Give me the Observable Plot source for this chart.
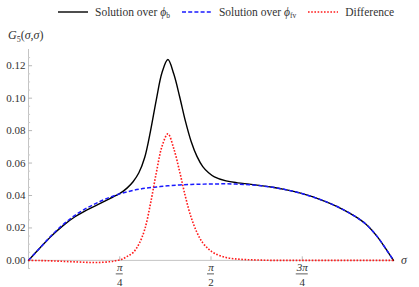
<!DOCTYPE html>
<html><head><meta charset="utf-8">
<script src="https://cdn.jsdelivr.net/npm/d3@7"></script>
<script src="https://cdn.jsdelivr.net/npm/@observablehq/plot@0.6"></script>
<style>
html,body{margin:0;padding:0;background:#fff;}
body{width:419px;height:287px;overflow:hidden;font-family:'Liberation Serif','Times New Roman','DejaVu Serif',Times,serif;color:#333;}
#legend{height:24px;display:flex;align-items:center;padding-left:58px;font-size:11.5px;white-space:nowrap;}
.item{display:flex;align-items:center;margin-right:12px;}
.item svg{margin-right:7px;}
.item sub{font-size:7.5px;vertical-align:-2px;line-height:0;}
#chart svg{display:block;overflow:visible;}
#chart svg text{font-family:'Liberation Serif','Times New Roman','DejaVu Serif',Times,serif;}
</style></head><body>
<div id="legend"></div>
<div id="chart"></div>
<script>
// ---- data ----
const sigmaBlue = [0,0.1,0.2,0.3,0.4,0.5,0.6,0.7,0.8,0.9,1.0,1.1,1.2,1.3,1.4,1.5,1.6,1.7,1.8,1.9,2.0,2.1,2.2,2.3,2.4,2.5,2.6,2.7,2.8,2.9,3.0,3.1,3.1416];
const blueVals = [0,0.0078,0.0155,0.0222,0.0278,0.0322,0.0358,0.0389,0.0413,0.0431,0.0444,0.0452,0.0460,0.0465,0.0468,0.0470,0.0471,0.0472,0.0470,0.0466,0.0460,0.0451,0.0438,0.0422,0.0402,0.0378,0.0350,0.0316,0.0276,0.0226,0.0148,0.0045,0];

const sigmaFine = [0,0.1,0.2,0.3,0.4,0.5,0.6,0.7,0.75,0.8,0.85,0.9,0.95,1.0,1.05,1.1,1.15,1.2,1.25,1.3,1.35,1.4,1.45,1.5,1.55,1.6,1.7,1.8,1.9,2.0,2.1,2.2,2.3,2.4,2.5,2.6,2.7,2.8,2.9,3.0,3.1,3.1416];
const blackVals = [0,0.0078,0.0152,0.0216,0.0269,0.0310,0.0345,0.0381,0.0399,0.0419,0.0447,0.0485,0.0540,0.0634,0.0797,0.0990,0.1160,0.1238,0.1150,0.1012,0.0860,0.0733,0.0641,0.0578,0.0540,0.0515,0.0490,0.0478,0.0470,0.0461,0.0451,0.0438,0.0422,0.0402,0.0378,0.0350,0.0316,0.0276,0.0226,0.0148,0.0045,0];
const diffVals = [0,-0.0001,-0.0003,-0.0006,-0.0009,-0.0012,-0.0013,-0.0008,-0.0002,0.0006,0.0025,0.0048,0.0100,0.0190,0.0350,0.0540,0.0705,0.0780,0.0690,0.0550,0.0395,0.0265,0.0172,0.0108,0.0070,0.0044,0.0018,0.0008,0.0004,0.0002,0,0,0,0,0,0,0,0,0,0,0,0];

const yMajor = [0,0.02,0.04,0.06,0.08,0.10,0.12];
const yMinor = [-0.005,0.005,0.01,0.015,0.025,0.03,0.035,0.045,0.05,0.055,0.065,0.07,0.075,0.085,0.09,0.095,0.105,0.11,0.115,0.125];
const xTickVals = [Math.PI/4, Math.PI/2, 3*Math.PI/4];
const xTickNum = ["π","π","3π"];
const xTickDen = ["4","2","4"];

const seriesNames = ["Solution over ϕ", "Solution over ϕ", "Difference"];
const seriesSubs = ["b","fv",""];
const seriesColors = ["#000000","#1a1aff","#ff1a1a"];
const seriesDash = [null,"4,2.2","1.6,1.6"];
const seriesWidth = [1.4,1.5,1.6];

const FONT = "'Liberation Serif','Times New Roman','DejaVu Serif',Times,serif";

// ---- build tables ----
const blue = sigmaBlue.map((s,i)=>({s, v: blueVals[i]}));
const black = sigmaFine.map((s,i)=>({s, v: blackVals[i]}));
const diff = sigmaFine.map((s,i)=>({s, v: diffVals[i]}));
const xTicks = xTickVals.map((v,i)=>({v, num: xTickNum[i], den: xTickDen[i]}));

// ---- legend ----
const legend = document.getElementById("legend");
seriesNames.forEach((name,i)=>{
  const item = document.createElement("div");
  item.className = "item";
  const dash = seriesDash[i] ? `stroke-dasharray="${seriesDash[i]}"` : "";
  item.innerHTML = `<svg width="30" height="6"><line x1="0" y1="3" x2="30" y2="3" stroke="${seriesColors[i]}" stroke-width="${seriesWidth[i]}" stroke-linecap="butt" ${dash}/></svg>` +
    `<span>${name.replace("ϕ","<i>ϕ</i>")}${seriesSubs[i] ? `<sub>${seriesSubs[i]}</sub>` : ""}</span>`;
  legend.appendChild(item);
});

// ---- plot ----
const plot = Plot.plot({
  width: 419, height: 263,
  marginLeft: 28, marginRight: 26, marginTop: 25, marginBottom: 19,
  x: {domain: [0, Math.PI], axis: null},
  y: {domain: [-0.005, 0.13], axis: null},
  style: {fontFamily: FONT, fontSize: "11px", color: "#333", background: "white", overflow: "visible"},
  marks: [
    Plot.ruleX([0], {stroke: "#c4c4c4"}),
    Plot.ruleY([0], {stroke: "#c4c4c4"}),
    Plot.ruleY(yMajor, {x1: 0, x2: 0.035, stroke: "#b8b8b8"}),
    Plot.ruleY(yMinor, {x1: 0, x2: 0.018, stroke: "#cccccc"}),
    Plot.ruleX(xTickVals, {y1: 0, y2: 0.0022, stroke: "#b8b8b8"}),
    Plot.text(yMajor, {x: 0, y: d=>d, text: d=>d3.format(".2f")(d), textAnchor: "end", dx: -3, fill: "#333", fontSize: 11}),
    Plot.text(xTicks, {x: "v", y: 0, text: "num", dy: 7, fill: "#333", fontSize: 11, fontStyle: "italic"}),
    Plot.text(xTicks, {x: "v", y: 0, text: "den", dy: 22, fill: "#333", fontSize: 11}),
    Plot.line(black, {x: "s", y: "v", stroke: seriesColors[0], strokeWidth: seriesWidth[0], curve: "catmull-rom"}),
    Plot.line(blue, {x: "s", y: "v", stroke: seriesColors[1], strokeWidth: seriesWidth[1], strokeDasharray: seriesDash[1], strokeLinecap: "butt", curve: "catmull-rom"}),
    Plot.line(diff, {x: "s", y: "v", stroke: seriesColors[2], strokeWidth: seriesWidth[2], strokeDasharray: seriesDash[2], strokeLinecap: "butt", curve: "catmull-rom"})
  ]
});
document.getElementById("chart").appendChild(plot);

const xs = plot.scale("x"), ys = plot.scale("y");
const svg = d3.select(plot);
// fraction bars
xTicks.forEach(t=>{
  const cx = xs.apply(t.v), cy = ys.apply(0) + 14;
  const hw = 1 + 2.5 * t.num.length;
  svg.append("line").attr("x1", cx-hw).attr("x2", cx+hw).attr("y1", cy).attr("y2", cy)
    .attr("stroke", "#333").attr("stroke-width", 0.8);
});
// y label G5(σ,σ)
const yl = svg.append("text").attr("x", 8).attr("y", 15).attr("fill", "#333")
  .attr("text-anchor", "start").attr("font-size", 12).attr("font-family", FONT);
yl.append("tspan").attr("font-style", "italic").text("G");
yl.append("tspan").attr("font-size", 8).attr("dy", 3).text("5");
yl.append("tspan").attr("dy", -3).text("(");
yl.append("tspan").attr("font-style", "italic").text("σ");
yl.append("tspan").text(",");
yl.append("tspan").attr("font-style", "italic").text("σ");
yl.append("tspan").text(")");
// x label σ
svg.append("text").attr("x", xs.apply(Math.PI) + 8).attr("y", ys.apply(0)).attr("dy", "0.32em")
  .attr("text-anchor", "start").attr("fill", "#333").attr("font-size", 12).attr("font-style", "italic")
  .attr("font-family", FONT).text("σ");
</script></body></html>
